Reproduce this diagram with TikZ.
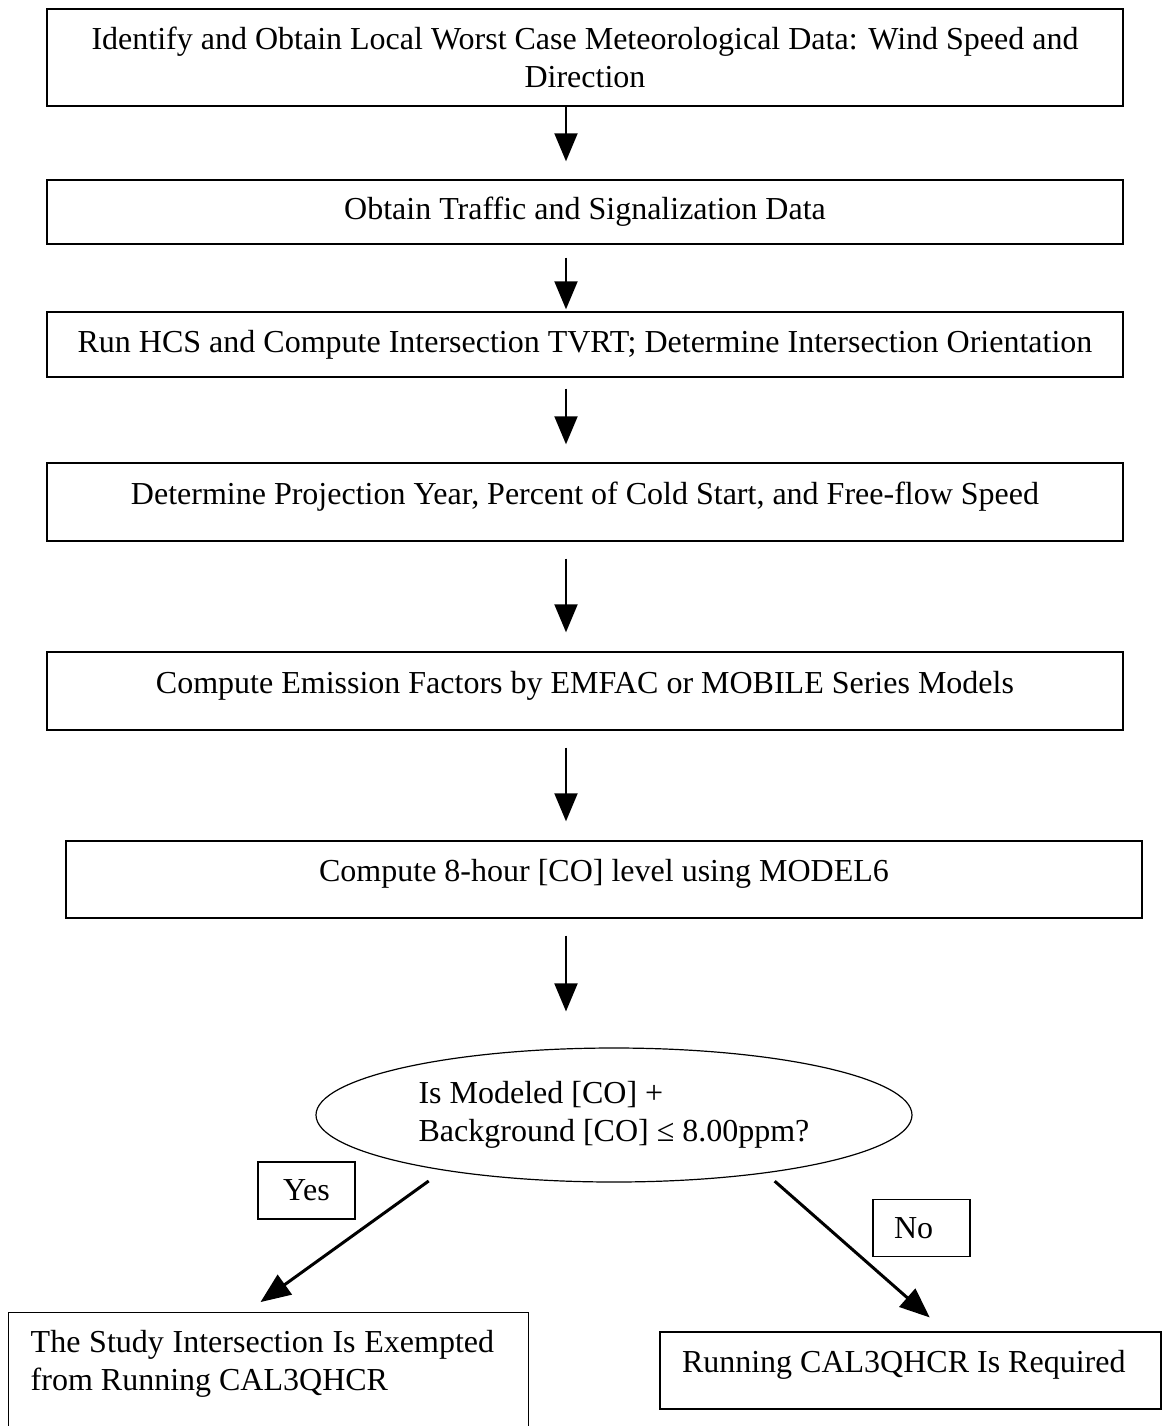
\documentclass[tikz,border=0pt]{standalone}
\usepackage{fontspec}
\setmainfont{Liberation Serif}
\usetikzlibrary{arrows.meta,shapes.geometric,calc}

\begin{document}
\begin{tikzpicture}[x=0.5pt,y=-0.5pt,
    font=\fontsize{16}{19}\selectfont,
    stepbox/.style={rectangle,draw,line width=0.7pt,minimum width=538pt,inner sep=0pt},
    lowtext/.style={text height=11pt,text depth=9pt},
    decision/.style={ellipse,draw,line width=0.6pt,minimum width=298pt,minimum height=67pt,inner sep=0pt,align=left},
    answer/.style={rectangle,draw,line width=0.7pt,minimum width=48.5pt,minimum height=28.5pt,inner sep=0pt},
    outcome/.style={rectangle,draw,line width=0.7pt,inner xsep=11pt,align=left,
      execute at begin node={\spaceskip=0pt\xspaceskip=0pt}},
    flow/.style={line width=1pt,-{Triangle[length=14pt,width=11.5pt]}},
    branch/.style={line width=1.5pt,-{Triangle[length=15pt,width=12pt]}}]

\useasboundingbox (0,0) rectangle (1163,1426);
\clip (0,0) rectangle (1163,1426);

% main steps
\node[stepbox,minimum height=48.5pt,align=center] (met) at (585,57.5)
  {Identify and Obtain Local Worst Case Meteorological Data: Wind Speed and\\ Direction};
\node[stepbox,minimum height=32pt] (traffic) at (585,212) {Obtain Traffic and Signalization Data};
\node[stepbox,minimum height=32.5pt] (hcs) at (585,344.5)
  {Run HCS and Compute Intersection TVRT; Determine Intersection Orientation};
\node[stepbox,lowtext,minimum height=39pt] (year) at (585,502)
  {Determine Projection Year, Percent of Cold Start, and Free-flow Speed};
\node[stepbox,lowtext,minimum height=39pt] (emfac) at (585,691)
  {Compute Emission Factors by EMFAC or MOBILE Series Models};
\node[stepbox,lowtext,minimum height=38.5pt] (model) at (604,879.5)
  {Compute 8-hour [CO] level using MODEL6};

% test and outcomes
\node[decision] (test) at (614,1115) {Is Modeled [CO] +\\Background [CO] ≤ 8.00ppm?};
\node[answer] (yes) at (306.5,1190.5) {Yes};
\node[answer,text width=27.5pt,inner xsep=10.5pt,align=left] (no) at (921.5,1228) {No};
\node[outcome,anchor=north west,text width=238pt,inner ysep=9pt,text depth=40pt] (exempt) at (8,1312)
  {The Study Intersection Is Exempted from Running CAL3QHCR};
\node[outcome,lowtext,text width=228.5pt,inner ysep=0pt,minimum height=38.5pt] (required) at (910.5,1370.5)
  {Running CAL3QHCR Is Required};

\coordinate (axis) at (566,0);
\draw[flow,shorten >=9pt] (met.south -| axis) -- (traffic.north -| axis);
\draw[flow,shorten <=6.5pt,shorten >=1pt] (traffic.south -| axis) -- (hcs.north -| axis);
\draw[flow,shorten <=5.5pt,shorten >=9pt] (hcs.south -| axis) -- (year.north -| axis);
\draw[flow,shorten <=8.5pt,shorten >=9.5pt] (year.south -| axis) -- (emfac.north -| axis);
\draw[flow,shorten <=8.5pt,shorten >=9.5pt] (emfac.south -| axis) -- (model.north -| axis);
\draw[flow,shorten <=8.5pt,shorten >=18pt] (model.south -| axis) -- (test.north -| axis);

\draw[branch,shorten <=9pt,shorten >=8.5pt] (test.198) -- ($(exempt.north)+(-22,0)$);
\draw[branch,shorten <=6pt,shorten >=10.5pt] (test.339) -- ($(required.north)+(35,0)$);
\end{tikzpicture}
\end{document}
